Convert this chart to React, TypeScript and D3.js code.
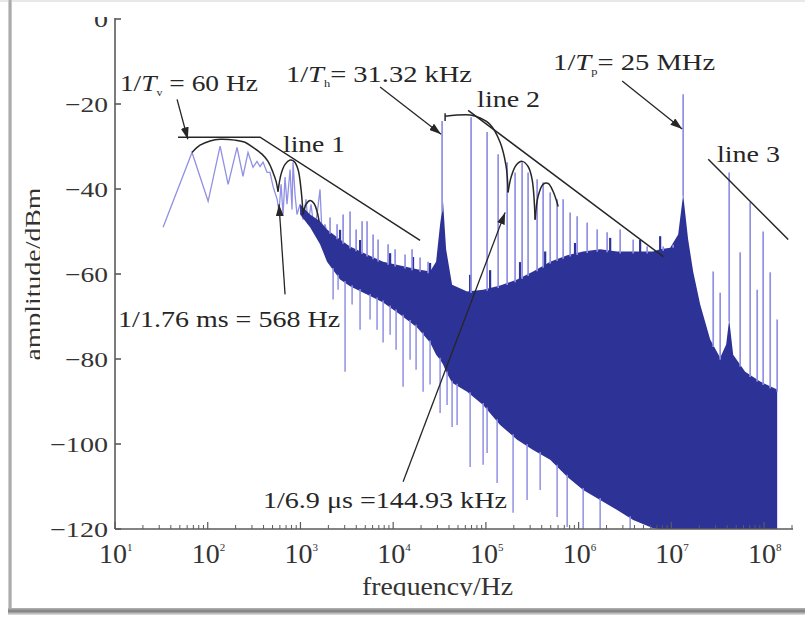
import React from 'react';
import * as d3 from 'd3';

const WIDTH = 805;
const HEIGHT = 619;
const FONT = 'Liberation Serif, Times New Roman, serif';
const DARK = '#2d3296';
const LIGHT = '#9090e4';
const INK = '#262626';

// axis ticks
const yTicks = [0, -20, -40, -60, -80, -100, -120];
const yTickWidths = [14, 43, 43, 43, 43, 58, 58];
const decades = [1, 2, 3, 4, 5, 6, 7, 8];

// light trace below ~2 kHz  [Hz, dB]
const lowTrace = [
  [33, -49.0], [67.7, -31.4], [101, -42.9], [136, -29.9], [166, -38.9], [207, -30.2],
  [240, -37.0], [272, -31.4], [308, -34.9], [340, -33.5], [367, -34.7], [395, -33.7],
  [437, -36.1], [470, -36.1], [506, -39.4], [560, -42.4], [587, -45.3], [618, -38.9],
  [649, -46.0], [682, -37.2], [716, -43.6], [773, -35.4], [811, -44.8], [832, -33.7],
  [874, -41.3], [918, -46.0], [991, -43.6], [1067, -47.2], [1149, -42.4], [1207, -48.3],
  [1301, -43.6], [1402, -49.5], [1510, -46.0], [1626, -40.1], [1710, -50.7], [1841, -48.3],
  [1985, -51.9],
];

// dense (dark) part of the spectrum: upper and lower edge
const bandFreq = [
  991, 1270, 1626, 1935, 2673, 3428, 5228, 7787, 11870, 18110, 25000, 29030, 32070, 34530,
  37220, 43190, 62700, 93300, 142300, 217100, 322800, 493400, 752300, 1.119e6, 1.706e6,
  2.602e6, 3.874e6, 6.362e6, 7.571e6, 9.706e6, 1.184e7, 1.34e7, 1.517e7, 1.718e7, 2.046e7,
  2.623e7, 3.36e7, 3.899e7, 4.203e7, 4.643e7, 6.252e7, 9.073e7, 1.384e8,
];
const bandTop = [
  -43.6, -46.0, -47.6, -49.5, -51.9, -53.5, -55.4, -57.1, -58.0, -58.9, -59.4, -57.1, -48.3, -43.1,
  -54.2, -62.5, -64.1, -63.7, -62.7, -61.3, -59.4, -57.1, -55.6, -54.7, -54.2,
  -54.7, -54.7, -54.7, -54.2, -53.8, -50.7, -41.3, -51.9, -59.4, -67.2,
  -75.4, -79.7, -76.6, -70.7, -79.0, -83.0, -85.3, -87.2,
];
const bandBottom = [
  -46.0, -49.0, -53.0, -57.1, -61.3, -62.9, -64.8, -66.7, -69.5, -72.6, -76.1, -79.0, -80.2, -81.3,
  -83.0, -85.6, -87.7, -90.8, -95.5, -99.0, -101.4, -103.7, -107.7, -110.8, -113.2,
  -115.5, -117.9, -119.8, -120, -120, -120, -120, -120, -120, -120,
  -120, -120, -120, -120, -120, -120, -120, -120,
];

// short dark peaks on the edge of the dense part  [Hz, dB]
const darkSpikes = [
  [2673, -49.6], [4395, -52.0], [9268, -55.1], [16370, -56.0], [25000, -57.4], [67600, -60.2],
  [111000, -59.1], [233300, -57.2], [435600, -54.7], [914000, -52.7], [2.188e6, -51.5],
  [4.606e6, -52.0], [7.571e6, -51.1],
];

// light spectral lines rising above the dense part  [Hz, peak dB]
const upSpikes = [
  [2085, -46.7], [2483, -48.3], [2884, -46.0], [3428, -45.3], [3984, -49.5], [4621, -47.6],
  [5228, -47.6], [6073, -50.7], [6871, -51.9], [8810, -53.0], [10490, -54.2], [13430, -55.4],
  [15990, -54.2], [19500, -56.1], [23800, -57.1],
  [33680, -24.0], [69200, -23.1], [103000, -26.6], [135500, -31.8], [169400, -33.7],
  [206400, -36.1], [245700, -33.7], [285100, -36.1], [356600, -37.7], [414000, -38.4],
  [493400, -40.8], [586100, -42.4], [680700, -42.4], [809700, -45.5], [963600, -46.4],
  [1.236e6, -47.9], [1.585e6, -49.5], [2.028e6, -50.2], [2.804e6, -49.5], [3.874e6, -51.9],
  [5.483e6, -53.5], [8.16e6, -53.5], [1.045e7, -53.8],
  [1.34e7, -17.7],
  [2.826e7, -59.4], [3.36e7, -64.4], [4.203e7, -36.1], [5.521e7, -54.9], [7.079e7, -43.1],
  [8.427e7, -63.7], [9.772e7, -50.0], [1.164e8, -59.6], [1.384e8, -70.7],
];

// light lines dropping below the dense part  [Hz, lowest dB]
const downSpikes = [
  [2250, -66.0], [2546, -63.7], [3027, -83.0], [3606, -67.2], [4395, -73.1], [5635, -70.7],
  [6702, -73.1], [7787, -76.1], [9268, -74.3], [10750, -77.8], [12790, -86.5], [15210, -80.2],
  [17660, -82.5], [21030, -87.7], [25000, -86.0], [32070, -92.7], [38120, -90.8], [43190, -96.0],
  [48900, -95.5], [67600, -105.4], [93300, -104.9], [103000, -102.1], [132100, -109.2],
  [196400, -116.2], [278100, -113.2], [384600, -110.8], [586100, -117.2], [752300, -119.5],
  [1.119e6, -120], [1.706e6, -120], [3.595e6, -120],
];

// envelope lines
const line1 = [[47.8, -27.8], [367, -27.8], [19500, -52.1]];
const line2 = [[64300, -21.5], [8.16e6, -55.9]];
const line3 = [[2.5e7, -33.0], [1.82e8, -51.9]];

// sinc lobes
const lobes = [
  [[67.7, -31.4], [82.6, -29.7], [106, -28.7], [136, -28.3], [197, -28.5], [252, -29.0], [308, -30.2],
    [385, -31.8], [447, -33.5], [506, -36.1], [546, -38.2], [573, -40.6]],
  [[573, -40.6], [618, -36.5], [682, -34.2], [773, -33.2], [853, -33.5], [942, -35.4], [1015, -40.1], [1067, -46.0]],
  [[1067, -46.0], [1149, -43.6], [1270, -42.7], [1402, -43.4], [1510, -45.3], [1588, -47.6]],
  [[36300, -22.9], [67600, -22.6], [86500, -23.3], [111000, -24.8], [142300, -29.0], [165200, -34.7], [173500, -40.8]],
  [[173500, -40.8], [187000, -37.2], [211700, -34.4], [245700, -33.5], [285100, -34.7], [314700, -37.7], [339500, -47.2]],
  [[339500, -47.2], [365400, -41.7], [414000, -38.9], [469300, -38.7], [530900, -40.6], [601700, -44.1]],
];
const lobeTick = [[36300, -22.2], [36300, -24.0]];

const arrows = [
  { from: [46.7, -18.9], to: [61, -28.3] },
  { from: [7225, -16.0], to: [32862, -27.1] },
  { from: [2.946e6, -14.6], to: [1.308e7, -25.9] },
  { from: [682, -64.8], to: [587, -43.6] },
  { from: [12790, -108.9], to: [161200, -45.5] },
];

// text parts: [text, style]  i = italic, s = subscript
const notes = [
  { parts: [['1/'], ['T', 'i'], ['v', 's'], [' = 60 Hz']], f: 11.3, db: -17.0, w: 138, size: 23 },
  { parts: [['1/'], ['T', 'i'], ['h', 's'], ['= 31.32 kHz']], f: 698, db: -14.8, w: 186, size: 23 },
  { parts: [['1/'], ['T', 'i'], ['p', 's'], ['= 25 MHz']], f: 530900, db: -12.0, w: 162, size: 23 },
  { parts: [['line 1']], f: 649, db: -31.3, w: 62, size: 24 },
  { parts: [['line 2']], f: 80400, db: -20.7, w: 63, size: 24 },
  { parts: [['line 3']], f: 3.1e7, db: -33.6, w: 63, size: 24 },
  { parts: [['1/1.76 ms = 568 Hz']], f: 10.8, db: -72.5, w: 222, size: 23 },
  { parts: [['1/6.9 μs =144.93 kHz']], f: 394, db: -115.1, w: 244, size: 23 },
];

function bandAt(arr: number[], f: number) {
  const i = d3.bisectLeft(bandFreq, f);
  if (i <= 0) return arr[0];
  if (i >= bandFreq.length) return arr[arr.length - 1];
  const a = Math.log10(bandFreq[i - 1]);
  const b = Math.log10(bandFreq[i]);
  const t = (Math.log10(f) - a) / (b - a);
  return arr[i - 1] + t * (arr[i] - arr[i - 1]);
}

export default function App() {
  const x = d3.scaleLog().domain([10, 2e8]).range([115, 792]);
  const y = d3.scaleLinear().domain([-120, 0]).range([529, 19]);

  const line = d3.line<number[]>().x(d => x(d[0])).y(d => y(d[1]));
  const smooth = d3.line<number[]>().x(d => x(d[0])).y(d => y(d[1])).curve(d3.curveCatmullRom.alpha(0.5));
  const band = d3.area<number>()
    .x((_, i) => x(bandFreq[i]))
    .y0((_, i) => y(bandBottom[i]))
    .y1((_, i) => y(bandTop[i]));

  const minor: number[] = [];
  decades.forEach(d => {
    for (let k = 2; k <= 9; k++) {
      const f = k * Math.pow(10, d);
      if (f <= 2e8) minor.push(f);
    }
  });

  return (
    <svg width={WIDTH} height={HEIGHT} style={{ position: 'absolute', left: 0, top: 0, background: '#fff' }}>
      <defs>
        <marker id="ah" viewBox="0 0 12 8" refX="12" refY="4" markerWidth="12" markerHeight="8"
          markerUnits="userSpaceOnUse" orient="auto">
          <path d="M0,0 L12,4 L0,8 z" fill={INK} />
        </marker>
        <clipPath id="topcut"><rect x="0" y="17" width={WIDTH} height={HEIGHT} /></clipPath>
        <clipPath id="xlabcut"><rect x="0" y="0" width={WIDTH} height="596" /></clipPath>
        <clipPath id="ylabcut"><rect x="0" y="0" width="40" height={HEIGHT} /></clipPath>
        <linearGradient id="shadowB" x1="0" y1="0" x2="0" y2="1">
          <stop offset="0" stopColor="#b5b5b5" />
          <stop offset="0.45" stopColor="#7d7d7d" />
          <stop offset="1" stopColor="#e6e6e6" />
        </linearGradient>
        <linearGradient id="shadowL" x1="0" y1="0" x2="1" y2="0">
          <stop offset="0" stopColor="#e0e0e0" />
          <stop offset="0.5" stopColor="#9a9a9a" />
          <stop offset="1" stopColor="#d8d8d8" />
        </linearGradient>
      </defs>

      {/* picture frame */}
      <rect x="0" y="0" width={WIDTH} height="2" fill="#e8e8e8" />
      <rect x="8" y="0" width="4" height="613" fill="url(#shadowL)" />
      <rect x="8" y="608" width={WIDTH - 8} height="7" fill="url(#shadowB)" />

      {/* spectrum */}
      <path d={line(lowTrace) ?? ''} fill="none" stroke={LIGHT} strokeWidth={1.3} />
      <path d={band(bandFreq) ?? ''} fill={DARK} />
      {darkSpikes.map((s, i) => (
        <line key={'k' + i} x1={x(s[0])} x2={x(s[0])} y1={y(s[1])} y2={y(bandAt(bandTop, s[0])) + 2}
          stroke={DARK} strokeWidth={2.2} />
      ))}
      {upSpikes.map((s, i) => (
        <line key={'u' + i} x1={x(s[0])} x2={x(s[0])} y1={y(s[1])} y2={y(bandAt(bandTop, s[0])) + 2}
          stroke={LIGHT} strokeWidth={1.7} />
      ))}
      {downSpikes.map((s, i) => (
        <line key={'d' + i} x1={x(s[0])} x2={x(s[0])} y1={y(bandAt(bandBottom, s[0])) - 2} y2={y(s[1])}
          stroke={LIGHT} strokeWidth={1.5} />
      ))}

      {/* axes */}
      <g stroke="#5a5a5a" strokeWidth={1.6}>
        <line x1={115} x2={115} y1={y(0) - 1} y2={y(-120)} />
        <line x1={115} x2={793} y1={y(-120)} y2={y(-120)} />
        {yTicks.map(t => <line key={t} x1={115} x2={121} y1={y(t)} y2={y(t)} />)}
        {decades.map(d => (
          <line key={d} x1={x(Math.pow(10, d))} x2={x(Math.pow(10, d))} y1={y(-120)} y2={y(-120) - 7} strokeWidth={1.2} />
        ))}
        {minor.map(f => (
          <line key={f} x1={x(f)} x2={x(f)} y1={y(-120)} y2={y(-120) - 4} strokeWidth={1} />
        ))}
      </g>
      <g fontFamily={FONT} fill="#333" fontSize={22}>
        {yTicks.map((t, i) => (
          <text key={t} x={108} y={y(t) + 7.5} textAnchor="end" textLength={yTickWidths[i]}
            lengthAdjust="spacingAndGlyphs" clipPath={t === 0 ? 'url(#topcut)' : undefined}>
            {t === 0 ? '0' : '\u2212' + Math.abs(t)}
          </text>
        ))}
        {decades.map(d => {
          const cx = x(Math.pow(10, d)) - 2;
          return (
            <g key={d}>
              <text x={cx} y={563} textAnchor="middle" fontSize={28}>10</text>
              <text x={cx + 14} y={551} fontSize={11}>{d}</text>
            </g>
          );
        })}
        <text x={362} y={595} fontSize={26} textLength={151} lengthAdjust="spacingAndGlyphs"
          clipPath="url(#xlabcut)">frequency/Hz</text>
        <g clipPath="url(#ylabcut)">
          <text transform="translate(41,274) rotate(-90)" textAnchor="middle" fontSize={23}
            textLength={173} lengthAdjust="spacingAndGlyphs">amplitude/dBm</text>
        </g>
      </g>

      {/* envelopes and annotations */}
      <g fill="none" stroke={INK} strokeWidth={1.5}>
        <path d={line(line1) ?? ''} />
        <path d={line(line2) ?? ''} />
        <path d={line(line3) ?? ''} />
        {lobes.map((l, i) => <path key={i} d={smooth(l) ?? ''} />)}
        <path d={line(lobeTick) ?? ''} />
        {arrows.map((a, i) => (
          <line key={i} x1={x(a.from[0])} y1={y(a.from[1])} x2={x(a.to[0])} y2={y(a.to[1])}
            markerEnd="url(#ah)" strokeWidth={1.3} />
        ))}
      </g>
      <g fontFamily={FONT} fill={INK}>
        {notes.map((n, i) => {
          let shift = 0;
          return (
            <text key={i} x={x(n.f)} y={y(n.db)} fontSize={n.size} textLength={n.w}
              lengthAdjust="spacingAndGlyphs">
              {n.parts.map((p, j) => {
                let dy = 0;
                if (p[1] === 's') { dy = 5 - shift; shift = 5; }
                else { dy = -shift; shift = 0; }
                return (
                  <tspan key={j} dy={dy} fontStyle={p[1] === 'i' ? 'italic' : undefined}
                    fontSize={p[1] === 's' ? 10 : undefined}>{p[0]}</tspan>
                );
              })}
            </text>
          );
        })}
      </g>
    </svg>
  );
}
